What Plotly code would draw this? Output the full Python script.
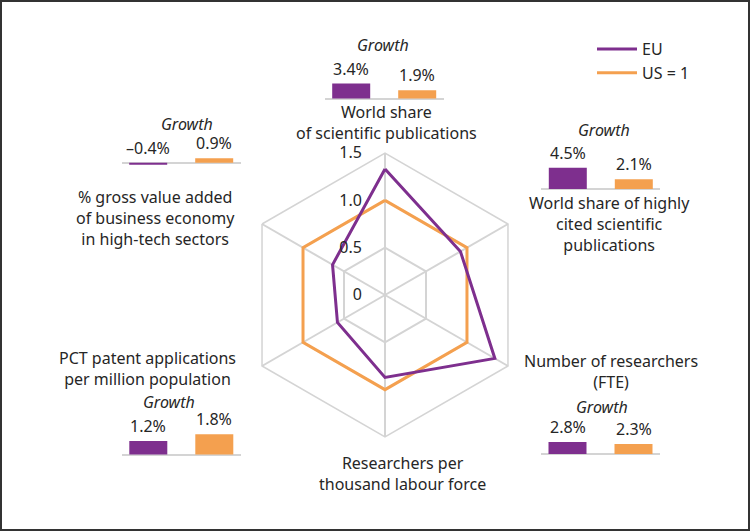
import plotly.graph_objects as go

# ---------------- data ----------------
categories = [
    "World share of scientific publications",
    "World share of highly cited scientific publications",
    "Number of researchers (FTE)",
    "Researchers per thousand labour force",
    "PCT patent applications per million population",
    "% gross value added of business economy in high-tech sectors",
]
category_labels = [
    "World share<br>of scientific publications",
    "World share of highly<br>cited scientific<br>publications",
    "Number of researchers<br>(FTE)",
    "Researchers per<br>thousand labour force",
    "PCT patent applications<br>per million population",
    "% gross value added<br>of business economy<br>in high-tech sectors",
]
eu_values = [1.33, 0.92, 1.34, 0.87, 0.58, 0.64]
us_values = [1.0, 1.0, 1.0, 1.0, 1.0, 1.0]
eu_growth = [3.4, 4.5, 2.8, None, 1.2, -0.4]
us_growth = [1.9, 2.1, 2.3, None, 1.8, 0.9]
radial_tickvals = [0, 0.5, 1.0, 1.5]
radial_ticktext = ["0", "0.5", "1.0", "1.5"]
series_names = ["EU", "US = 1"]
growth_title = "Growth"

# ---------------- styles / layout ----------------
W, H = 751, 532
PURPLE = "#7e2f8e"
ORANGE = "#f4a04f"
GRID = "#d4d4d4"
TEXT = "#262626"
FONT = "Noto Sans"
FS = 16

def px_x(x):
    return x / W

def px_y(y):
    return 1 - y / H

center = (385, 295)
radius = 142

# label centre positions (px)
label_pos = [(386, 122), (609, 224), (611, 371), (402, 473), (147, 368), (155, 218)]
# mini chart placement: purple bar centre x, baseline y, px per %, growth title pos
mini_style = {
    0: dict(cx=351.2, yb=98.5, s=4.4, gx=383, gy=45),
    1: dict(cx=567.8, yb=189.0, s=4.7, gx=604, gy=130),
    2: dict(cx=567.5, yb=454.0, s=4.3, gx=602, gy=407),
    4: dict(cx=148.3, yb=454.5, s=11.2, gx=169, gy=402),
    5: dict(cx=148.2, yb=162.7, s=5.0, gx=187, gy=124),
}
UNIT = 66.0  # px between bar centres
BAR_W = 38.0 / UNIT

fig = go.Figure()

theta = categories + [categories[0]]
fig.add_trace(go.Scatterpolar(
    r=us_values + [us_values[0]], theta=theta, mode="lines",
    line=dict(color=ORANGE, width=3), name=series_names[1]))
fig.add_trace(go.Scatterpolar(
    r=eu_values + [eu_values[0]], theta=theta, mode="lines",
    line=dict(color=PURPLE, width=3), name=series_names[0]))

annotations = []
layout_axes = {}
k = 0
for i, cat in enumerate(categories):
    lx, ly = label_pos[i]
    annotations.append(dict(
        x=px_x(lx), y=px_y(ly), xref="paper", yref="paper",
        text=category_labels[i], showarrow=False, xanchor="center", yanchor="middle",
        align="center", font=dict(family=FONT, size=FS, color=TEXT)))
    if eu_growth[i] is None:
        continue
    k += 1
    st = mini_style[i]
    xa = "x" if k == 1 else f"x{k}"
    ya = "y" if k == 1 else f"y{k}"
    xl = "xaxis" if k == 1 else f"xaxis{k}"
    yl = "yaxis" if k == 1 else f"yaxis{k}"
    x0r, x1r = -0.4, 1.4
    left = st["cx"] + x0r * UNIT
    right = st["cx"] + x1r * UNIT
    below, above = 12, 40
    layout_axes[xl] = dict(
        domain=[px_x(left), px_x(right)], range=[x0r, x1r], anchor=ya,
        showgrid=False, zeroline=False, showticklabels=False, ticks="", showline=False,
        fixedrange=True)
    layout_axes[yl] = dict(
        domain=[px_y(st["yb"] + below), px_y(st["yb"] - above)],
        range=[-below / st["s"], above / st["s"]], anchor=xa,
        showgrid=False, zeroline=True, zerolinecolor=GRID, zerolinewidth=2,
        showticklabels=False, ticks="", showline=False, fixedrange=True)
    vals = [eu_growth[i], us_growth[i]]
    fig.add_trace(go.Bar(
        x=[0, 1], y=vals, width=[BAR_W, BAR_W],
        marker=dict(color=[PURPLE, ORANGE], line=dict(width=0)),
        xaxis=xa, yaxis=ya, showlegend=False, hoverinfo="skip"))
    for j, v in enumerate(vals):
        annotations.append(dict(
            x=j, y=max(v, 0), xref=xa, yref=ya,
            text=f"{v:.1f}%".replace("-", "\u2013"), showarrow=False,
            xanchor="center", yanchor="bottom", yshift=2,
            font=dict(family=FONT, size=FS, color=TEXT)))
    annotations.append(dict(
        x=px_x(st["gx"]), y=px_y(st["gy"]), xref="paper", yref="paper",
        text=f"<i>{growth_title}</i>", showarrow=False, xanchor="center", yanchor="middle",
        font=dict(family=FONT, size=FS, color=TEXT)))

fig.update_layout(
    width=W, height=H,
    margin=dict(l=0, r=0, t=0, b=0),
    paper_bgcolor="white", plot_bgcolor="white",
    font=dict(family=FONT, size=FS, color=TEXT),
    polar=dict(
        domain=dict(x=[px_x(center[0] - radius), px_x(center[0] + radius)],
                    y=[px_y(center[1] + radius), px_y(center[1] - radius)]),
        bgcolor="white",
        gridshape="linear",
        angularaxis=dict(
            rotation=90, direction="clockwise", categoryorder="array",
            categoryarray=categories, showticklabels=False, ticks="",
            gridcolor=GRID, gridwidth=1.5, linecolor=GRID, linewidth=1.5, showline=True),
        radialaxis=dict(
            range=[0, 1.5], tickvals=radial_tickvals, ticktext=radial_ticktext,
            angle=90, side="counterclockwise", tickangle=90, showline=False,
            ticks="outside", ticklen=17, tickcolor="rgba(0,0,0,0)",
            gridcolor=GRID, gridwidth=1.5,
            tickfont=dict(family=FONT, size=FS, color=TEXT)),
    ),
    legend=dict(
        x=px_x(592), y=px_y(32), xanchor="left", yanchor="top",
        traceorder="reversed", bgcolor="rgba(0,0,0,0)",
        font=dict(family=FONT, size=FS, color=TEXT), itemwidth=40,
        tracegroupgap=0),
    annotations=annotations,
    shapes=[dict(type="rect", xref="paper", yref="paper",
                 x0=px_x(1), x1=px_x(749), y0=px_y(530), y1=px_y(1),
                 line=dict(color="#333333", width=2))],
    **layout_axes,
)

fig.write_html("out.html", config={"displayModeBar": False},
               post_script="document.body.style.margin='0px';")
